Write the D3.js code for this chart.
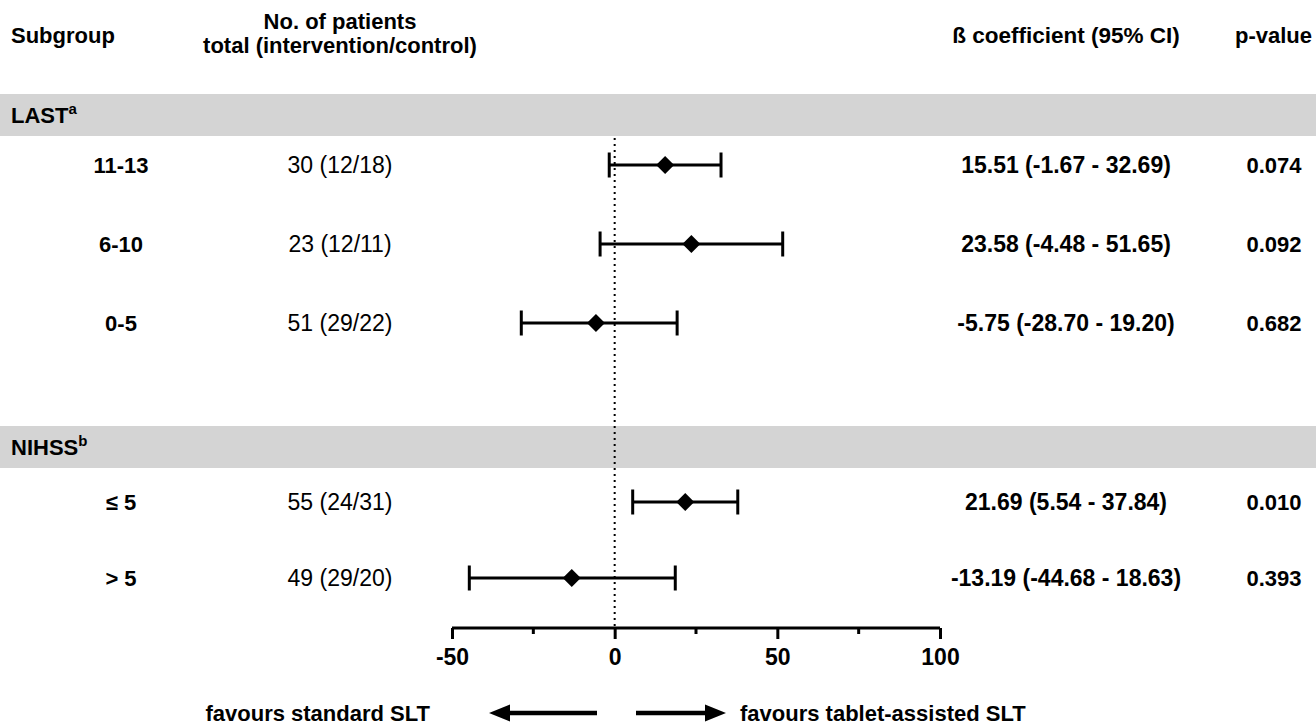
<!DOCTYPE html>
<html>
<head>
<meta charset="utf-8">
<script src="https://cdn.jsdelivr.net/npm/d3@7"></script>
<style>
  body { margin: 0; background: #fff; }
  svg { display: block; font-family: "Liberation Sans", Arial, sans-serif; }
</style>
</head>
<body>
<div id="chart"></div>
<script>
	// data
	var groups = ["LAST", "NIHSS"];
	var groupSup = ["a", "b"];
	var subgroups = [["11-13", "6-10", "0-5"], ["\u2264 5", "> 5"]];
	var patients = [["30 (12/18)", "23 (12/11)", "51 (29/22)"], ["55 (24/31)", "49 (29/20)"]];
	var beta = [[15.51, 23.58, -5.75], [21.69, -13.19]];
	var lower = [[-1.67, -4.48, -28.70], [5.54, -44.68]];
	var upper = [[32.69, 51.65, 19.20], [37.84, 18.63]];
	var pvals = [["0.074", "0.092", "0.682"], ["0.010", "0.393"]];
	var xTicks = [-50, 0, 50, 100];
	var xMinor = [-25, 25, 75];

	var W = 1316, H = 725;
	var fs = 22;

	var svg = d3.select("#chart").append("svg")
		.attr("width", W)
		.attr("height", H);

	var x = d3.scaleLinear().domain([-50, 100]).range([452, 940]);

	// each group gets a header band and a point scale for its rows
	var bandTop = [94, 426];
	var rowRange = [[165, 323], [502, 578]];
	var axisY = 628;

	// column centres
	var colSub = 121, colPat = 340, colBeta = 1066, colP = 1274;

	// header
	var head = svg.append("g").attr("font-weight", "bold").attr("font-size", fs);
	head.append("text").attr("x", 11).attr("y", 43).text("Subgroup");
	head.append("text").attr("x", colPat).attr("y", 29).attr("text-anchor", "middle").text("No. of patients");
	head.append("text").attr("x", colPat).attr("y", 53).attr("text-anchor", "middle").text("total (intervention/control)");
	head.append("text").attr("x", colBeta).attr("y", 43).attr("text-anchor", "middle").attr("font-size", 22.5).text("\u00df coefficient (95% CI)");
	head.append("text").attr("x", 1312).attr("y", 43).attr("text-anchor", "end").text("p-value");

	// grey bands
	groups.forEach(function(gname, gi){
		svg.append("rect")
			.attr("x", 0).attr("y", bandTop[gi])
			.attr("width", W).attr("height", 42)
			.attr("fill", "#d4d4d4");
		var t = svg.append("text")
			.attr("x", 11).attr("y", bandTop[gi] + 29)
			.attr("font-weight", "bold").attr("font-size", fs)
			.text(gname);
		t.append("tspan").attr("dy", -9).attr("font-size", 15).text(groupSup[gi]);
	});

	// zero reference line
	svg.append("line")
		.attr("x1", x(0)).attr("x2", x(0))
		.attr("y1", bandTop[0] + 44).attr("y2", axisY)
		.attr("stroke", "#000").attr("stroke-width", 2)
		.attr("stroke-dasharray", "2,4");

	// rows
	groups.forEach(function(gname, gi){
		var y = d3.scalePoint().domain(subgroups[gi]).range(rowRange[gi]);
		subgroups[gi].forEach(function(sg, i){
			var cy = y(sg);
			var g = svg.append("g");
			g.append("text").attr("x", colSub).attr("y", cy).attr("dy", "0.36em")
				.attr("text-anchor", "middle").attr("font-weight", "bold").attr("font-size", fs)
				.text(sg);
			g.append("text").attr("x", colPat).attr("y", cy).attr("dy", "0.36em")
				.attr("text-anchor", "middle").attr("font-size", 23)
				.text(patients[gi][i]);
			g.append("text").attr("x", colBeta).attr("y", cy).attr("dy", "0.36em")
				.attr("text-anchor", "middle").attr("font-weight", "bold").attr("font-size", 23)
				.text(beta[gi][i].toFixed(2) + " (" + lower[gi][i].toFixed(2) + " - " + upper[gi][i].toFixed(2) + ")");
			g.append("text").attr("x", colP).attr("y", cy).attr("dy", "0.36em")
				.attr("text-anchor", "middle").attr("font-weight", "bold").attr("font-size", fs)
				.text(pvals[gi][i]);

			// CI whisker with caps
			g.append("line")
				.attr("x1", x(lower[gi][i])).attr("x2", x(upper[gi][i]))
				.attr("y1", cy).attr("y2", cy)
				.attr("stroke", "#000").attr("stroke-width", 3);
			[lower[gi][i], upper[gi][i]].forEach(function(v){
				g.append("line")
					.attr("x1", x(v)).attr("x2", x(v))
					.attr("y1", cy - 12.5).attr("y2", cy + 12.5)
					.attr("stroke", "#000").attr("stroke-width", 3);
			});
			g.append("path")
				.attr("transform", "translate(" + x(beta[gi][i]) + "," + cy + ")")
				.attr("d", d3.symbol(d3.symbolDiamond2, 206)())
				.attr("fill", "#000");
		});
	});

	// x axis
	var axis = svg.append("g").attr("transform", "translate(0," + axisY + ")")
		.call(d3.axisBottom(x).tickValues(xTicks).tickSize(11).tickFormat(d3.format("d")));
	axis.select(".domain").attr("stroke-width", 3).attr("d", "M" + x(-50) + ",0H" + x(100));
	axis.selectAll(".tick line").attr("stroke-width", 3);
	axis.selectAll(".tick text")
		.attr("font-family", "Liberation Sans, Arial, sans-serif")
		.attr("font-size", 23).attr("font-weight", "bold").attr("fill", "#000")
		.attr("y", 21).attr("dy", "0.71em")
		.text(function(d){ return d < 0 ? "-" + Math.abs(d) : d; });
	axis.selectAll(".minor").data(xMinor).enter().append("line")
		.attr("x1", function(d){ return x(d); }).attr("x2", function(d){ return x(d); })
		.attr("y1", 0).attr("y2", 6)
		.attr("stroke", "#000").attr("stroke-width", 3);

	// direction arrows
	var arrowY = 713;
	function arrow(x1, x2){
		var dir = x2 > x1 ? 1 : -1;
		var base = x2 - dir * 21;
		svg.append("line").attr("x1", x1).attr("x2", base).attr("y1", arrowY).attr("y2", arrowY)
			.attr("stroke", "#000").attr("stroke-width", 4.5);
		svg.append("path")
			.attr("d", "M" + x2 + "," + arrowY + "L" + base + "," + (arrowY - 8.5) + "L" + base + "," + (arrowY + 8.5) + "Z")
			.attr("fill", "#000");
	}
	arrow(597, 489);
	arrow(636, 726);
	svg.append("text").attr("x", 430).attr("y", arrowY).attr("dy", "0.36em")
		.attr("text-anchor", "end").attr("font-weight", "bold").attr("font-size", fs)
		.text("favours standard SLT");
	svg.append("text").attr("x", 740).attr("y", arrowY).attr("dy", "0.36em")
		.attr("font-weight", "bold").attr("font-size", fs)
		.text("favours tablet-assisted SLT");
</script>
</body>
</html>
